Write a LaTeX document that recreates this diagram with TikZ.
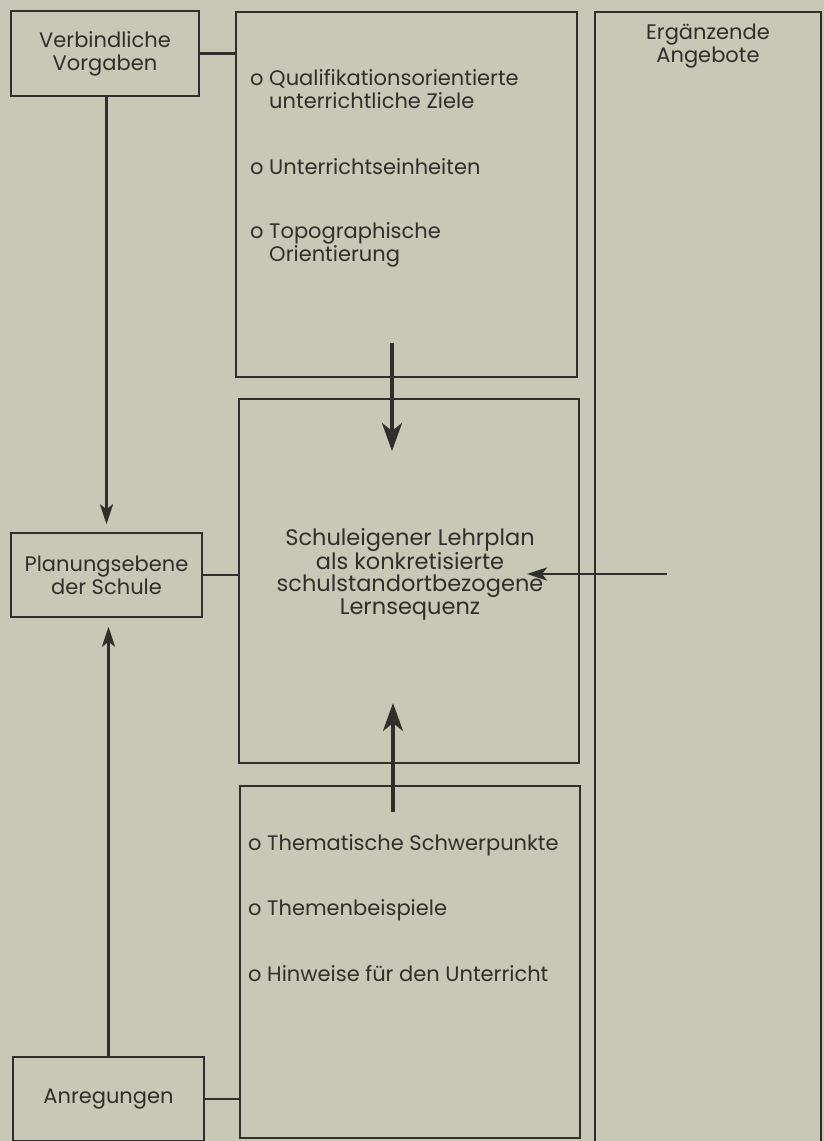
\documentclass[tikz,border=0pt]{standalone}
\usepackage{fontspec}
\setmainfont{Poppins}
\usetikzlibrary{arrows.meta}
\definecolor{paper}{HTML}{C9C7B5}
\definecolor{ink}{HTML}{2F2F2B}
\begin{document}
\begin{tikzpicture}[x=1pt,y=-1pt,
  box/.style={draw=ink, line width=1.5pt, inner sep=0pt, align=center, text=ink, font=\fontsize{21}{23}\selectfont},
  txt/.style={inner sep=0pt, align=left, anchor=west, text=ink, font=\fontsize{21}{23}\selectfont},
  conn/.style={draw=ink, line width=2.2pt},
  arr/.style={draw=ink, line width=2.5pt, -{Stealth[length=20pt,width=13pt,inset=5pt]}},
  bigarr/.style={draw=ink, line width=3.5pt, -{Stealth[length=28pt,width=20pt,inset=8pt]}}]
\useasboundingbox (0,0) rectangle (824,1141);
\fill[paper] (0,0) rectangle (824,1141);
\clip (0,0) rectangle (824,1141);
% boxes
\node[box, minimum width=188pt, minimum height=85pt] (vv) at (105,53.5) {Verbindliche\\Vorgaben};
\node[box, minimum width=341pt, minimum height=365pt] (top) at (406.5,194.5) {};
\node[box, minimum width=226pt, minimum height=1150pt] (erg) at (708,587) {};
\node[box, draw=none] (ergt) at (708,46) {Ergänzende\\Angebote};
\node[box, minimum width=191pt, minimum height=84pt] (plan) at (106.5,575) {Planungsebene\\der Schule};
\node[box, minimum width=340pt, minimum height=364pt] (mid) at (409,581) {};
\node[box, draw=none, font=\fontsize{22.5}{22.5}\selectfont] (midt) at (410,574) {Schuleigener Lehrplan\\als konkretisierte\\schulstandortbezogene\\Lernsequenz};
\node[box, minimum width=340pt, minimum height=352pt] (bot) at (410,962) {};
\node[box, minimum width=191pt, minimum height=84pt] (anr) at (108.5,1099) {Anregungen};
% items
\node[txt] (t1) at (250,89) {o Qualifikationsorientierte\\\phantom{o }unterrichtliche Ziele};
\node[txt] (t2) at (250,167) {o Unterrichtseinheiten};
\node[txt] (t3) at (250,245) {o Topographische\\\phantom{o }Orientierung};
\node[txt] (b1) at (248,845) {o Thematische Schwerpunkte};
\node[txt] (b2) at (248,910) {o Themenbeispiele};
\node[txt] (b3) at (248,974) {o Hinweise für den Unterricht};
% connectors
\draw[conn] (vv.east) -- (vv.east -| top.west);
\draw[conn] (plan.east) -- (plan.east -| mid.west);
\draw[conn] (anr.east) -- (anr.east -| bot.west);
\draw[arr, shorten >=8pt] (plan.north |- vv.south) -- (plan.north);
\draw[arr, shorten >=9pt] (anr.north) -- (anr.north |- plan.south);
\coordinate (a1s) at (392,343);
\coordinate (a1e) at (392,451);
\coordinate (a2s) at (393,812);
\coordinate (a2e) at (393,703);
\coordinate (a3s) at (667,574);
\coordinate (a3e) at (527,574);
\draw[bigarr] (a1s) -- (a1e);
\draw[bigarr] (a2s) -- (a2e);
\draw[arr] (a3s) -- (a3e);
\end{tikzpicture}
\end{document}
